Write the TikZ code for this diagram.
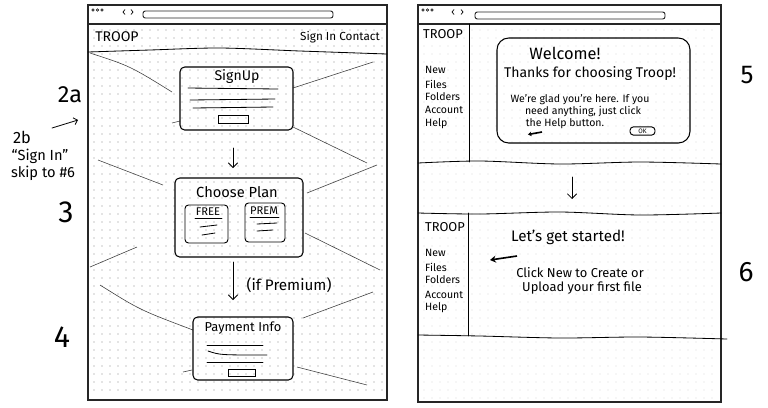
\documentclass[tikz,border=0pt]{standalone}
\usepackage{fontspec}
\setmainfont{Fira Sans}
\usetikzlibrary{arrows.meta,fit}
\begin{document}
\begin{tikzpicture}[x=0.03cm,y=-0.03cm,
  frame/.style={draw=black!85, line width=1.1pt, inner sep=0pt},
  bar/.style={draw=black!85, line width=0.8pt, rounded corners=2pt, inner sep=0pt},
  ray/.style={draw=black!75, line width=0.5pt},
  ink/.style={draw=black, line width=0.7pt, line cap=round},
  box/.style={draw=black, line width=0.9pt, inner sep=0pt, rounded corners=4pt},
  hand/.style={inner sep=0pt, text=black},
  dn/.style={ink, -{Straight Barb[length=4pt,width=8pt]}},
  dotgrid/.style={fill=black!45}
]
\useasboundingbox (0,0) rectangle (768,407);
% ---------- dot grids
\foreach \x in {94,102,...,382} \foreach \y in {30,38,...,394} \fill[dotgrid] (\x,\y) circle (0.45pt);
\foreach \x in {424,432,...,716} \foreach \y in {30,38,...,398} \fill[dotgrid] (\x,\y) circle (0.4pt);

% ================= LEFT BROWSER =================
\node[frame, fit={(88,5) (387,400)}] (lframe) {};
\draw[frame] (88,24) -- (387,24);
\foreach \x in {93,97.5,102} \draw[line width=0.5pt] (\x,10) circle (1.3);
\draw[line width=0.6pt] (125,9.5) -- (123,12) -- (125,14.5);
\draw[line width=0.6pt] (131,9.5) -- (133,12) -- (131,14.5);
\node[bar, fit={(143,11) (333,18)}] (laddr) {};
\node[hand, font=\fontsize{12}{14}\selectfont] (ltroop) at (117,37) {TROOP};
\node[hand, font=\fontsize{10}{12}\selectfont] (lnav) at (340,37) {Sign In Contact};
\draw[ink] plot[smooth] coordinates {(88,52) (150,50) (220,48) (300,51) (387,54)};

% rays
\draw[ray] (90,53) .. controls (130,66) .. (172,92);
\draw[ray] (293,88) -- (373,62);
\draw[ray] (293,127) -- (367,163);
\draw[ray] (172,123) -- (180,121);
\draw[ray] (98,160) -- (163,185);
\draw[ray] (307,193) -- (377,165);
\draw[ray] (90,267) -- (137,247);
\draw[ray] (305,233) -- (380,270);
\draw[ray] (100,285) .. controls (140,310) .. (193,330);
\draw[ray] (303,318) -- (373,292);
\draw[ray] (183,372) -- (192,370);
\draw[ray] (297,367) -- (367,385);

% Sign Up
\node[box, fit={(180,67) (293,130)}] (signup) {};
\node[hand, font=\fontsize{12}{14}\selectfont] (signupt) at (237,77) {SignUp};
\draw[ink] (188,88) -- (278,89);
\draw[ink] (190,100) -- (275,99);
\draw[ink] (193,108) -- (273,107);
\node[draw, line width=0.8pt, inner sep=0pt, fit={(218,115) (248,123)}] (signupbtn) {};

% arrow 1
\coordinate (a1s) at (233,148);
\coordinate (a1e) at (233,168);
\draw[dn] (a1s) -- (a1e);

% Choose Plan
\node[box, fit={(175,178) (303,257)}] (plan) {};
\node[hand, font=\fontsize{12.5}{14}\selectfont] (plant) at (237,192) {Choose Plan};
\node[box, line width=0.8pt, rounded corners=3pt, fit={(185,205) (228,243)}] (free) {};
\node[hand, font=\fontsize{9.5}{11}\selectfont] (freet) at (208,212) {FREE};
\draw[ink] (195,218) -- (222,218);
\draw[ink] (200,227) -- (217,225);
\draw[ink] (202,235) -- (215,233);
\node[box, line width=0.8pt, rounded corners=3pt, fit={(245,203) (285,242)}] (prem) {};
\node[hand, font=\fontsize{9.5}{11}\selectfont] (premt) at (264,211) {PREM};
\draw[ink] (250,217) -- (279,217);
\draw[ink] (257,224) -- (277,223);
\draw[ink] (257,231) -- (273,230);

% arrow 2
\coordinate (a2s) at (233,262);
\coordinate (a2e) at (233,300);
\draw[dn] (a2s) -- (a2e);
\node[hand, font=\fontsize{13}{15}\selectfont] (ifprem) at (289,285) {(if Premium)};

% Payment
\node[box, fit={(193,317) (293,380)}] (pay) {};
\node[hand, font=\fontsize{11}{13}\selectfont] (payt) at (243,328) {Payment Info};
\draw[ink] (207,345) -- (263,345);
\draw[ink] (208,351) .. controls (220,355) .. (267,355);
\draw[ink] (207,362) -- (263,362);
\node[draw, line width=0.8pt, inner sep=0pt, fit={(228,369) (255,376)}] (paybtn) {};

% side labels
\node[hand, font=\fontsize{20}{22}\selectfont] (l2a) at (70,95) {2a};
\coordinate (a2bs) at (52,128);
\coordinate (a2be) at (78,120);
\draw[ink, -{Straight Barb[length=3pt,width=6pt]}] (a2bs) -- (a2be);
\node[hand, font=\fontsize{14}{16}\selectfont] (l2b) at (22,137) {2b};
\node[hand, font=\fontsize{12.5}{15}\selectfont] (l2bq) at (40,156) {``Sign In''};
\node[hand, font=\fontsize{12.5}{15}\selectfont] (l2bs) at (43,173) {skip to \#6};
\node[hand, font=\fontsize{26}{28}\selectfont] (l3) at (66,212) {3};
\node[hand, font=\fontsize{26}{28}\selectfont] (l4) at (62,337) {4};

% ================= RIGHT BROWSER =================
\node[frame, fit={(418,5) (721,402)}] (rframe) {};
\draw[frame] (418,24) -- (721,24);
\foreach \x in {423,427.5,432} \draw[line width=0.5pt] (\x,10) circle (1.3);
\draw[line width=0.6pt] (454,9.5) -- (452,12) -- (454,14.5);
\draw[line width=0.6pt] (461,9.5) -- (463,12) -- (461,14.5);
\node[bar, fit={(475,12) (665,19)}] (raddr) {};

% top panel
\draw[ink] (469,24) -- (469,162);
\node[hand, font=\fontsize{11}{13}\selectfont] (rtroop1) at (443,34) {TROOP};
\foreach \t/\yy [count=\i] in {New/70,Files/84,Folders/97,Account/110,Help/124}
  \node[hand, anchor=west, font=\fontsize{9}{11}\selectfont] (rm1\i) at (425,\yy) {\t};
\node[box, rounded corners=10pt, fit={(497,38) (690,143)}] (welcome) {};
\node[hand, font=\fontsize{14}{16}\selectfont] (welt) at (565,53) {Welcome!};
\node[hand, font=\fontsize{12}{14}\selectfont] (thx) at (590,74) {Thanks for choosing Troop!};
\node[hand, font=\fontsize{9}{11}\selectfont] (w1) at (580,100) {We're glad you're here. If you};
\node[hand, font=\fontsize{9}{11}\selectfont] (w2) at (583,112) {need anything, just click};
\node[hand, font=\fontsize{9}{11}\selectfont] (w3) at (565,124) {the Help button.};
\node[draw, line width=0.8pt, rounded corners=3pt, inner sep=0pt, minimum width=0.75cm, minimum height=0.25cm,
  font=\fontsize{5.5}{6}\selectfont] (okbtn) at (642.5,131) {OK};
\coordinate (ha1) at (542,132);
\coordinate (ha2) at (528,134.5);
\draw[line width=1.4pt, -{Stealth[length=3pt,width=4pt]}] (ha1) -- (ha2);
\draw[ink] plot[smooth] coordinates {(418,163) (480,161) (560,164) (640,162) (721,164)};

% arrow between panels
\coordinate (a3s) at (572,177);
\coordinate (a3e) at (572,199);
\draw[dn] (a3s) -- (a3e);

% bottom panel
\draw[ink] plot[smooth] coordinates {(418,213) (480,214) (560,212) (640,215) (721,213)};
\draw[ink] (468,213) -- (468,336);
\draw[ink] plot[smooth] coordinates {(418,335) (480,336) (560,338) (640,337) (727,339)};
\node[hand, font=\fontsize{11}{13}\selectfont] (rtroop2) at (445,227) {TROOP};
\foreach \t/\yy [count=\i] in {New/253,Files/267,Folders/280,Account/295,Help/308}
  \node[hand, anchor=west, font=\fontsize{9}{11}\selectfont] (rm2\i) at (425,\yy) {\t};
\node[hand, font=\fontsize{13}{15}\selectfont] (start) at (568,237) {Let's get started!};
\coordinate (ha3) at (517,256);
\coordinate (ha4) at (490,260);
\draw[line width=1.4pt, -{Stealth[length=5pt,width=6pt]}] (ha3) -- (ha4);
\node[hand, font=\fontsize{11}{13}\selectfont] (c1) at (580,273) {Click New to Create or};
\node[hand, font=\fontsize{11}{13}\selectfont] (c2) at (582,288) {Upload your first file};

\node[hand, font=\fontsize{22}{24}\selectfont] (l5) at (747,75) {5};
\node[hand, font=\fontsize{24}{26}\selectfont] (l6) at (746,272) {6};
\end{tikzpicture}
\end{document}
